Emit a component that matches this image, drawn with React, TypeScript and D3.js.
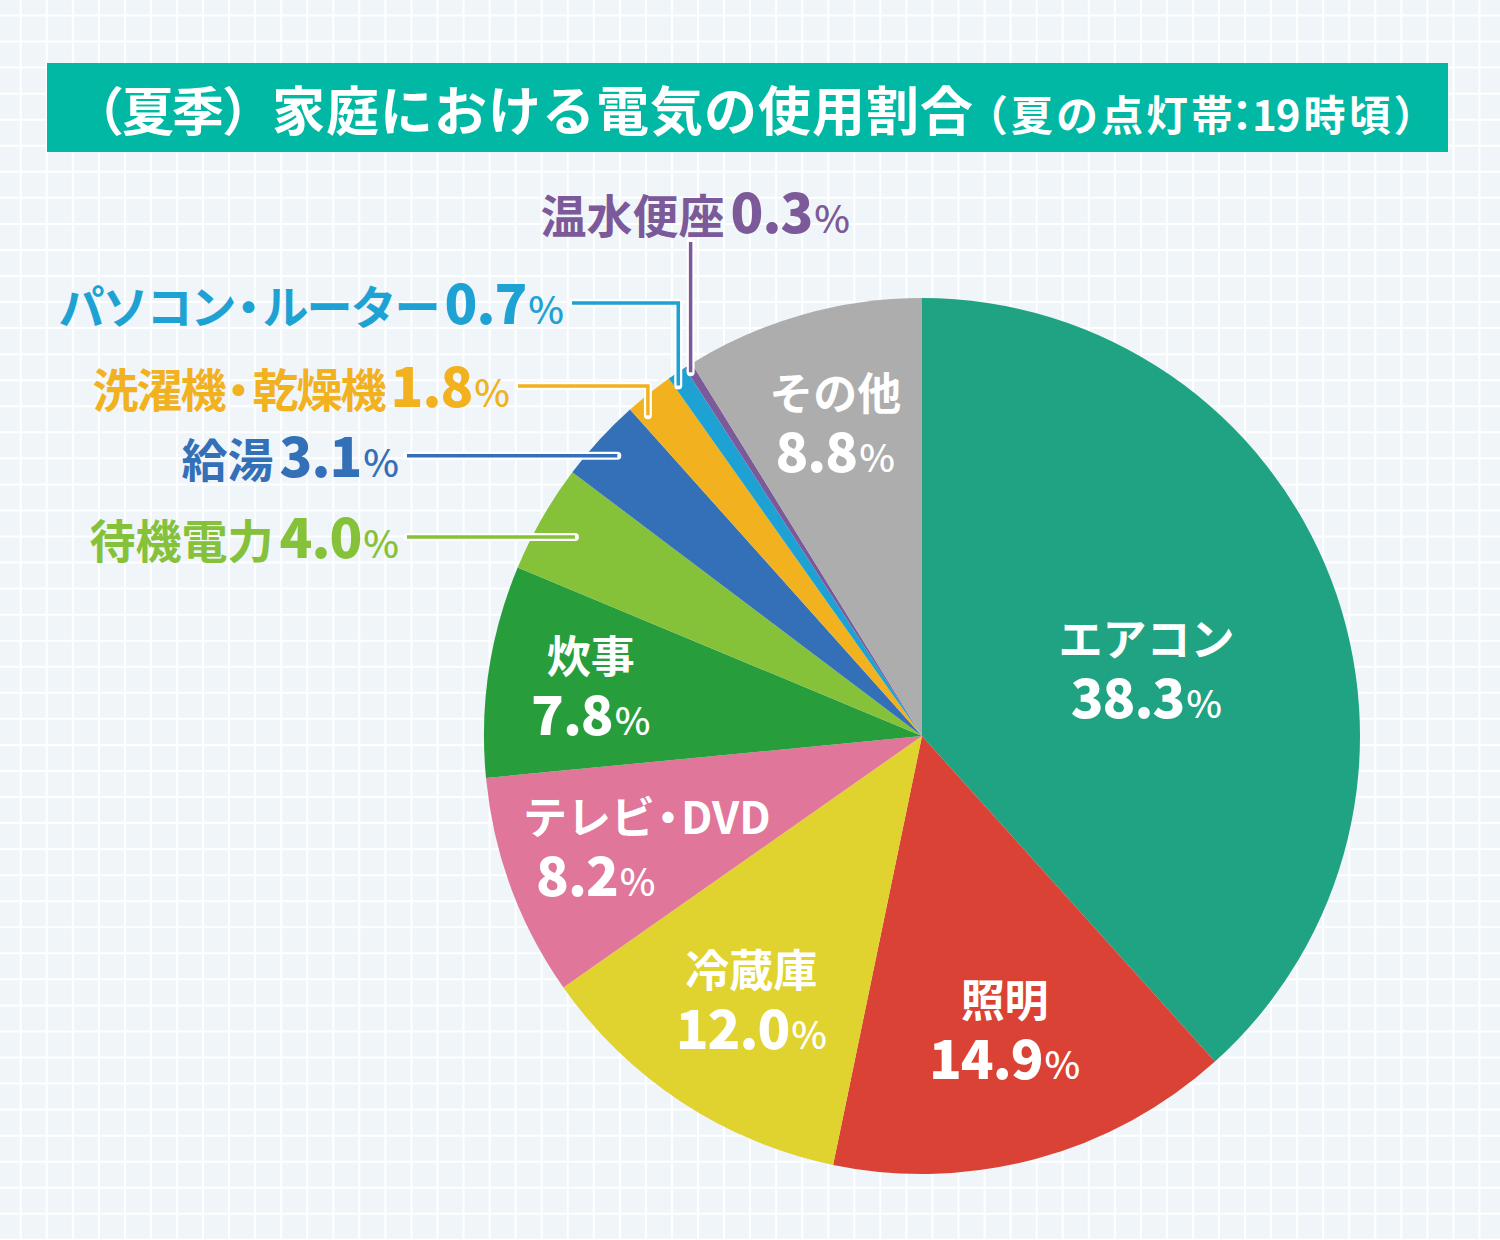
import React, { useEffect, useRef } from 'react';
import * as d3 from 'd3';

// household electricity use by appliance, summer evening peak
const categories = [
  'エアコン', '照明', '冷蔵庫', 'テレビ・DVD', '炊事', '待機電力',
  '給湯', '洗濯機・乾燥機', 'パソコン・ルーター', '温水便座', 'その他',
];
const shares = [38.3, 14.9, 12.0, 8.2, 7.8, 4.0, 3.1, 1.8, 0.7, 0.3, 8.8];
const sliceColors = [
  '#1fa383', '#d94234', '#e0d22f', '#e0769a', '#279e3b', '#86c13a',
  '#3470b8', '#f2b11e', '#1ea2d4', '#7c5a9a', '#adadad',
];
const titleLead = '（夏季）';
const titleMain = '家庭における電気の使用割合';
const titleSub = ['（夏の点灯帯', '：', '19', '時頃）'];

const WIDTH = 1500;
const HEIGHT = 1240;
const FONT = "'Noto Sans CJK JP', 'Noto Sans', sans-serif";

// labels drawn inside the slice: radius of the label centre plus small nudges
const insideLayout: Record<string, { r: number; dx?: number; dy?: number; nameDx?: number; valueDx?: number }> = {
  'エアコン': { r: 235, dx: 5, dy: 17 },
  '照明': { r: 305, dx: 3 },
  '冷蔵庫': { r: 316, dx: 3 },
  'テレビ・DVD': { r: 320, nameDx: 25, valueDx: -26 },
  '炊事': { r: 335 },
  'その他': { r: 325, dx: 2 },
};

// labels placed outside with a leader line; t = position across the slice angle
const outsideLayout: Record<string, { r: number; t: number; lineStart?: number; rowY?: number; lineTop?: number; textEnd?: number; textY?: number }> = {
  '待機電力': { r: 400, t: 0.5, lineStart: 407 },
  '給湯': { r: 414, t: 0.5, lineStart: 407 },
  '洗濯機・乾燥機': { r: 422, t: 0.2, lineStart: 518, rowY: 386 },
  'パソコン・ルーター': { r: 427, t: 0.2, lineStart: 572, rowY: 303 },
  '温水便座': { r: 431, t: 0.3, lineTop: 242, textEnd: 850, textY: 233 },
};

// writes a name into a text node, squeezing the full-width middle dot
function appendName(text: d3.Selection<SVGTextElement, unknown, null, undefined>, name: string, size: number, spacing = 0) {
  const parts = name.split('・');
  parts.forEach((p, i) => {
    if (i > 0) {
      text.append('tspan')
        .attr('dx', -9)
        .style('font-size', `${size}px`)
        .style('letter-spacing', '-9px')
        .text('・');
    }
    text.append('tspan')
      .style('font-size', `${size}px`)
      .style('letter-spacing', `${spacing}px`)
      .text(p);
  });
}

const App: React.FC = () => {
  const svgRef = useRef<SVGSVGElement>(null);

  useEffect(() => {
    if (!svgRef.current) return;
    const svg = d3.select(svgRef.current);
    svg.selectAll('*').remove();

    // background with white grid
    svg.append('rect')
      .attr('width', WIDTH)
      .attr('height', HEIGHT)
      .attr('fill', '#eff5f8');

    const step = 26.05;
    const grid = svg.append('g').attr('stroke', '#ffffff').attr('stroke-width', 2);
    d3.range(20.7, WIDTH, step).forEach(x => {
      grid.append('line').attr('x1', x).attr('x2', x).attr('y1', 0).attr('y2', HEIGHT);
    });
    d3.range(15.5, HEIGHT, step).forEach(y => {
      grid.append('line').attr('y1', y).attr('y2', y).attr('x1', 0).attr('x2', WIDTH);
    });

    // title bar
    svg.append('rect')
      .attr('x', 47)
      .attr('y', 63)
      .attr('width', 1401)
      .attr('height', 89)
      .attr('fill', '#00b8a3');

    const title = svg.append('text')
      .attr('x', 72)
      .attr('y', 131)
      .attr('fill', '#ffffff')
      .style('font-family', FONT)
      .style('font-weight', 700);
    title.append('tspan').style('font-size', '52px').style('letter-spacing', '-2px').text(titleLead);
    title.append('tspan').style('font-size', '53px').style('letter-spacing', '1px').text(titleMain);
    title.append('tspan').attr('dx', -8).style('font-size', '42px').style('letter-spacing', '3px').text(titleSub[0]);
    title.append('tspan').attr('dx', -15).style('font-size', '42px').style('letter-spacing', '0px').text(titleSub[1]);
    title.append('tspan').attr('dx', -11).style('font-size', '42px').style('letter-spacing', '-1px').text(titleSub[2]);
    title.append('tspan').attr('dx', 4).style('font-size', '42px').style('letter-spacing', '3px').text(titleSub[3]);

    // pie
    const cx = 922;
    const cy = 736;
    const radius = 438;
    const data = categories.map((c, i) => ({ name: c, value: shares[i], color: sliceColors[i] }));
    const pie = d3.pie<typeof data[number]>().sort(null).value(d => d.value);
    const arcs = pie(data);
    const arc = d3.arc<d3.PieArcDatum<typeof data[number]>>().innerRadius(0).outerRadius(radius);

    const g = svg.append('g').attr('transform', `translate(${cx},${cy})`);
    g.selectAll('path.slice')
      .data(arcs)
      .join('path')
      .attr('class', 'slice')
      .attr('d', arc)
      .attr('fill', d => d.data.color);

    const fmt = d3.format('.1f');

    // labels inside slices
    arcs.filter(d => insideLayout[d.data.name]).forEach(d => {
      const lay = insideLayout[d.data.name];
      const [px, py] = d3.arc<any>().innerRadius(lay.r).outerRadius(lay.r).centroid(d);
      const x = cx + px + (lay.dx || 0);
      const y = cy + py + (lay.dy || 0);

      const name = svg.append('text')
        .attr('x', x + (lay.nameDx || 0))
        .attr('y', y - 13)
        .attr('text-anchor', 'middle')
        .attr('fill', '#ffffff')
        .style('font-family', FONT)
        .style('font-weight', 700);
      appendName(name, d.data.name, 44);

      const val = svg.append('text')
        .attr('x', x + (lay.valueDx || 0))
        .attr('y', y + 49)
        .attr('text-anchor', 'middle')
        .attr('fill', '#ffffff')
        .style('font-family', FONT)
        .style('font-weight', 900);
      val.append('tspan').style('font-size', '54px').style('letter-spacing', '-1px').text(fmt(d.data.value));
      val.append('tspan').attr('dx', 2).style('font-size', '38px').style('font-weight', 500).text('%');
    });

    // labels outside with leader lines
    arcs.filter(d => outsideLayout[d.data.name]).forEach(d => {
      const lay = outsideLayout[d.data.name];
      const a = d.startAngle + lay.t * (d.endAngle - d.startAngle);
      const ax = cx + lay.r * Math.sin(a);
      const ay = cy - lay.r * Math.cos(a);

      let path: string;
      let textX: number;
      let textY: number;
      if (lay.lineTop !== undefined) {
        path = `M${ax},${lay.lineTop}V${ay}`;
        textX = lay.textEnd as number;
        textY = lay.textY as number;
      } else if (lay.rowY !== undefined) {
        path = `M${lay.lineStart},${lay.rowY}H${ax}V${ay}`;
        textX = (lay.lineStart as number) - 8;
        textY = lay.rowY + 21;
      } else {
        path = `M${lay.lineStart},${ay}H${ax}`;
        textX = (lay.lineStart as number) - 8;
        textY = ay + 21;
      }

      svg.append('path')
        .attr('d', path)
        .attr('fill', 'none')
        .attr('stroke', '#ffffff')
        .attr('stroke-width', 8)
        .attr('stroke-linecap', 'round')
        .attr('stroke-linejoin', 'round');
      svg.append('path')
        .attr('d', path)
        .attr('fill', 'none')
        .attr('stroke', d.data.color)
        .attr('stroke-width', 3.5);

      const label = svg.append('text')
        .attr('x', textX)
        .attr('y', textY)
        .attr('text-anchor', 'end')
        .attr('fill', d.data.color)
        .style('font-family', FONT)
        .style('font-weight', 700);
      appendName(label, d.data.name, 46, d.data.name.length > 6 ? -2 : 0);
      label.append('tspan').attr('dx', 6).style('font-size', '54px').style('font-weight', 900).style('letter-spacing', '-1px').text(fmt(d.data.value));
      label.append('tspan').attr('dx', 2).style('font-size', '38px').style('font-weight', 500).text('%');
    });
  }, []);

  return (
    <svg
      ref={svgRef}
      width={WIDTH}
      height={HEIGHT}
      style={{ position: 'absolute', left: 0, top: 0, display: 'block' }}
    />
  );
};

export default App;
